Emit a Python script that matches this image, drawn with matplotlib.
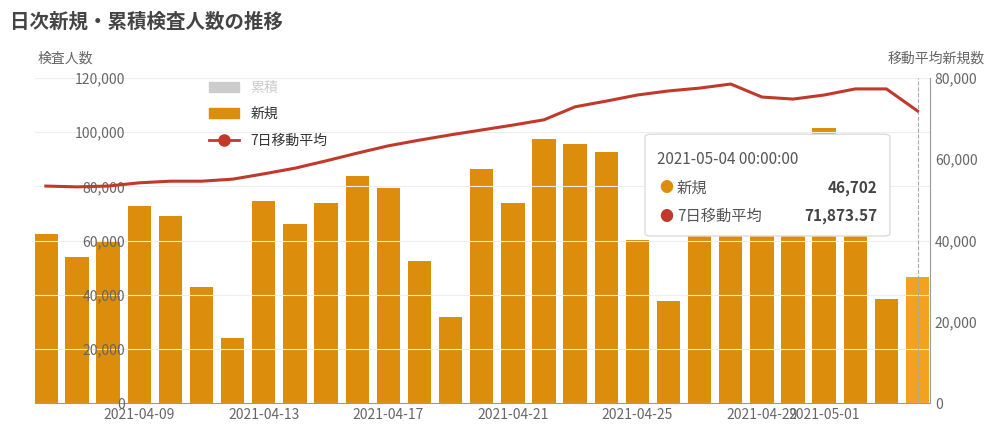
import matplotlib
matplotlib.use("Agg")
import matplotlib.pyplot as plt
from matplotlib.lines import Line2D
from matplotlib.patches import Patch, FancyBboxPatch
import numpy as np
import pandas as pd

plt.rcParams['font.family'] = ['Noto Sans CJK JP', 'DejaVu Sans']

dates = pd.date_range("2021-04-06", "2021-05-04").strftime("%Y-%m-%d").tolist()
new_tests = [62400, 54000, 59500, 72700, 69000, 42800, 24000, 74600, 66000, 73900,
             83800, 79400, 52400, 31800, 86400, 73900, 97500, 95600, 92700, 60200,
             37700, 68000, 65000, 62000, 62000, 101500, 64000, 38400, 46702]
ma7 = [53400, 53200, 53400, 54200, 54600, 54600, 55100, 56400, 57800, 59600,
       61500, 63300, 64700, 66000, 67200, 68400, 69700, 72900, 74300, 75800,
       76800, 77500, 78500, 75300, 74800, 75800, 77300, 77300, 71873.57]
tick_labels = ["2021-04-09", "2021-04-13", "2021-04-17", "2021-04-21", "2021-04-25", "2021-04-29", "2021-05-01"]

bar_c = "#db8d0b"
line_c = "#c0392b"
grid_c = "#eeeeee"
txt_c = "#666666"

fig = plt.figure(figsize=(10, 4.33), dpi=100)
ax = fig.add_axes([0.035, 0.069, 0.895, 0.751])
x = np.arange(len(dates))
colors = [bar_c] * (len(x) - 1) + ["#f2a21e"]
ax.bar(x, new_tests, width=0.75, color=colors, zorder=2)
ax.set_ylim(0, 120000)
ax.set_xlim(-0.35, len(x) - 0.6)
ax.set_yticks(np.arange(0, 120001, 20000))
ax.set_yticklabels([f"{v:,}" for v in range(0, 120001, 20000)], color=txt_c, fontsize=10)
ax.grid(axis='y', color=grid_c, zorder=0)
for s in ['top', 'right', 'left']:
    ax.spines[s].set_visible(False)
ax.spines['bottom'].set_color('#999999')
ax.tick_params(axis='y', length=0, pad=-65)
for t in ax.get_yticklabels():
    t.set_zorder(5)
ax.set_axisbelow(False)
ticks = [dates.index(t) for t in tick_labels]
ax.set_xticks(ticks)
ax.set_xticklabels(tick_labels, color=txt_c, fontsize=10)
ax.tick_params(axis='x', length=0)
ax.axvline(x[-1], color='#aaaaaa', ls='--', lw=0.8, zorder=3)

ax2 = ax.twinx()
ax2.plot(x, ma7, color=line_c, lw=2.2, zorder=4)
ax2.set_ylim(0, 80000)
ax2.set_yticks(np.arange(0, 80001, 20000))
ax2.set_yticklabels([f"{v:,}" for v in range(0, 80001, 20000)], color=txt_c, fontsize=10)
ax2.tick_params(axis='y', length=0)
for s in ['top', 'right', 'left', 'bottom']:
    ax2.spines[s].set_visible(False)
ax2.spines['right'].set_visible(True)
ax2.spines['right'].set_color('#999999')

fig.text(0.01, 0.95, "日次新規・累積検査人数の推移", fontsize=14, fontweight='bold', color='#444444', va='center')
fig.text(0.038, 0.865, "検査人数", fontsize=10, color=txt_c, va='center')
fig.text(0.985, 0.865, "移動平均新規数", fontsize=10, color=txt_c, va='center', ha='right')

handles = [Patch(color='#cccccc', label='累積'), Patch(color=bar_c, label='新規'),
           Line2D([0], [0], color=line_c, lw=2, marker='o', ms=8, label='7日移動平均')]
leg = ax.legend(handles=handles, loc='upper left', bbox_to_anchor=(0.18, 1.03), frameon=False,
                fontsize=10, handlelength=2.2, labelspacing=0.9)
leg.get_texts()[0].set_color('#cccccc')
for t in leg.get_texts()[1:]:
    t.set_color('#333333')

# tooltip
box = FancyBboxPatch((0.645, 0.455), 0.245, 0.235, boxstyle="round,pad=0,rounding_size=0.006",
                     transform=fig.transFigure, fc='white', ec='#dddddd', lw=1, zorder=10)
fig.patches.append(box)
fig.text(0.657, 0.632, f"{dates[-1]} 00:00:00", fontsize=11, color='#555555', va='center', zorder=11)
fig.text(0.659, 0.565, "●", fontsize=10, color=bar_c, va='center', zorder=11)
fig.text(0.677, 0.565, "新規", fontsize=11, color='#555555', va='center', zorder=11)
fig.text(0.877, 0.565, f"{new_tests[-1]:,}", fontsize=11, color='#444444', fontweight='bold', va='center', ha='right', zorder=11)
fig.text(0.659, 0.500, "●", fontsize=10, color=line_c, va='center', zorder=11)
fig.text(0.677, 0.500, "7日移動平均", fontsize=11, color='#555555', va='center', zorder=11)
fig.text(0.877, 0.500, f"{ma7[-1]:,.2f}", fontsize=11, color='#444444', fontweight='bold', va='center', ha='right', zorder=11)

fig.savefig("out.png", dpi=100)
